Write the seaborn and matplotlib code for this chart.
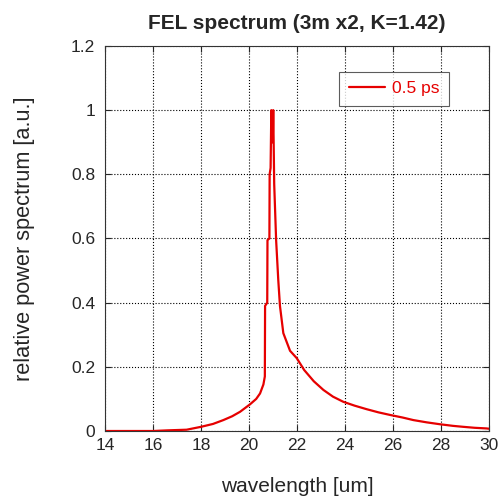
import pandas as pd
import matplotlib
matplotlib.use("Agg")
import matplotlib.pyplot as plt
import seaborn as sns

# spectrum values
wavelength = [14.0, 15.0, 16.0, 16.6, 17.4, 18.0, 18.5, 18.93, 19.3, 19.63, 20.04, 20.3,
              20.46, 20.6, 20.66, 20.67, 20.76, 20.77, 20.85, 20.86, 20.9, 20.93, 20.96,
              20.99, 21.01, 21.05, 21.13, 21.22, 21.29, 21.43, 21.71, 21.99, 22.3, 22.7,
              23.1, 23.5, 23.93, 24.4, 24.9, 25.4, 25.88, 26.4, 26.85, 27.4, 27.96, 28.5,
              28.93, 29.4, 29.9, 30.0]
power = [0.0, 0.0, 0.0, 0.002, 0.004, 0.013, 0.022, 0.034, 0.046, 0.06, 0.083, 0.1,
         0.117, 0.145, 0.17, 0.39, 0.4, 0.595, 0.6, 0.8, 0.82, 1.0, 0.9,
         0.9, 1.0, 0.77, 0.595, 0.47, 0.39, 0.305, 0.25, 0.227, 0.19, 0.155,
         0.128, 0.107, 0.091, 0.079, 0.068, 0.058, 0.05, 0.042, 0.034, 0.027, 0.021, 0.016,
         0.013, 0.01, 0.008, 0.007]

df = pd.DataFrame({"wavelength": wavelength, "power": power})

sns.set_style("ticks")
plt.rcParams["font.family"] = ["Liberation Sans", "DejaVu Sans"]

red = "#e60000"

fig = plt.figure(figsize=(5.0, 4.97), dpi=100)
ax = fig.add_axes([105 / 500, 1 - 431 / 497, 384 / 500, 385 / 497])

sns.lineplot(data=df, x="wavelength", y="power", color=red, lw=1.6,
             label="0.5 ps", ax=ax)

ax.set_xlim(14, 30)
ax.set_ylim(0, 1.2)
ax.set_xticks(range(14, 31, 2))
ax.set_yticks([0, 0.2, 0.4, 0.6, 0.8, 1.0, 1.2])
ax.set_yticklabels(["0", "0.2", "0.4", "0.6", "0.8", "1", "1.2"])
ax.grid(True, color="black", linestyle=":", linewidth=0.8)
for s in ax.spines.values():
    s.set_visible(True)
    s.set_color("#333333")
    s.set_linewidth(0.8)
ax.tick_params(direction="in", top=True, right=True, labelsize=12.5, length=4)
ax.tick_params(axis="x", pad=5)
ax.tick_params(axis="y", pad=7)

ax.set_xlabel("wavelength [um]", fontsize=15, labelpad=17)
ax.set_ylabel("relative power spectrum [a.u.]", fontsize=15.7, labelpad=26)
ax.set_title("FEL spectrum (3m x2, K=1.42)", fontsize=15, fontweight="bold", pad=12)

leg = ax.legend(loc="upper right", bbox_to_anchor=(0.896, 0.933), fontsize=12.5,
                frameon=True, fancybox=False, handlelength=2.1, handletextpad=0.4,
                borderpad=0.55, borderaxespad=0)
leg.get_frame().set_edgecolor("#333333")
leg.get_frame().set_linewidth(0.8)
for t in leg.get_texts():
    t.set_color(red)

fig.savefig("out.png", dpi=100)
